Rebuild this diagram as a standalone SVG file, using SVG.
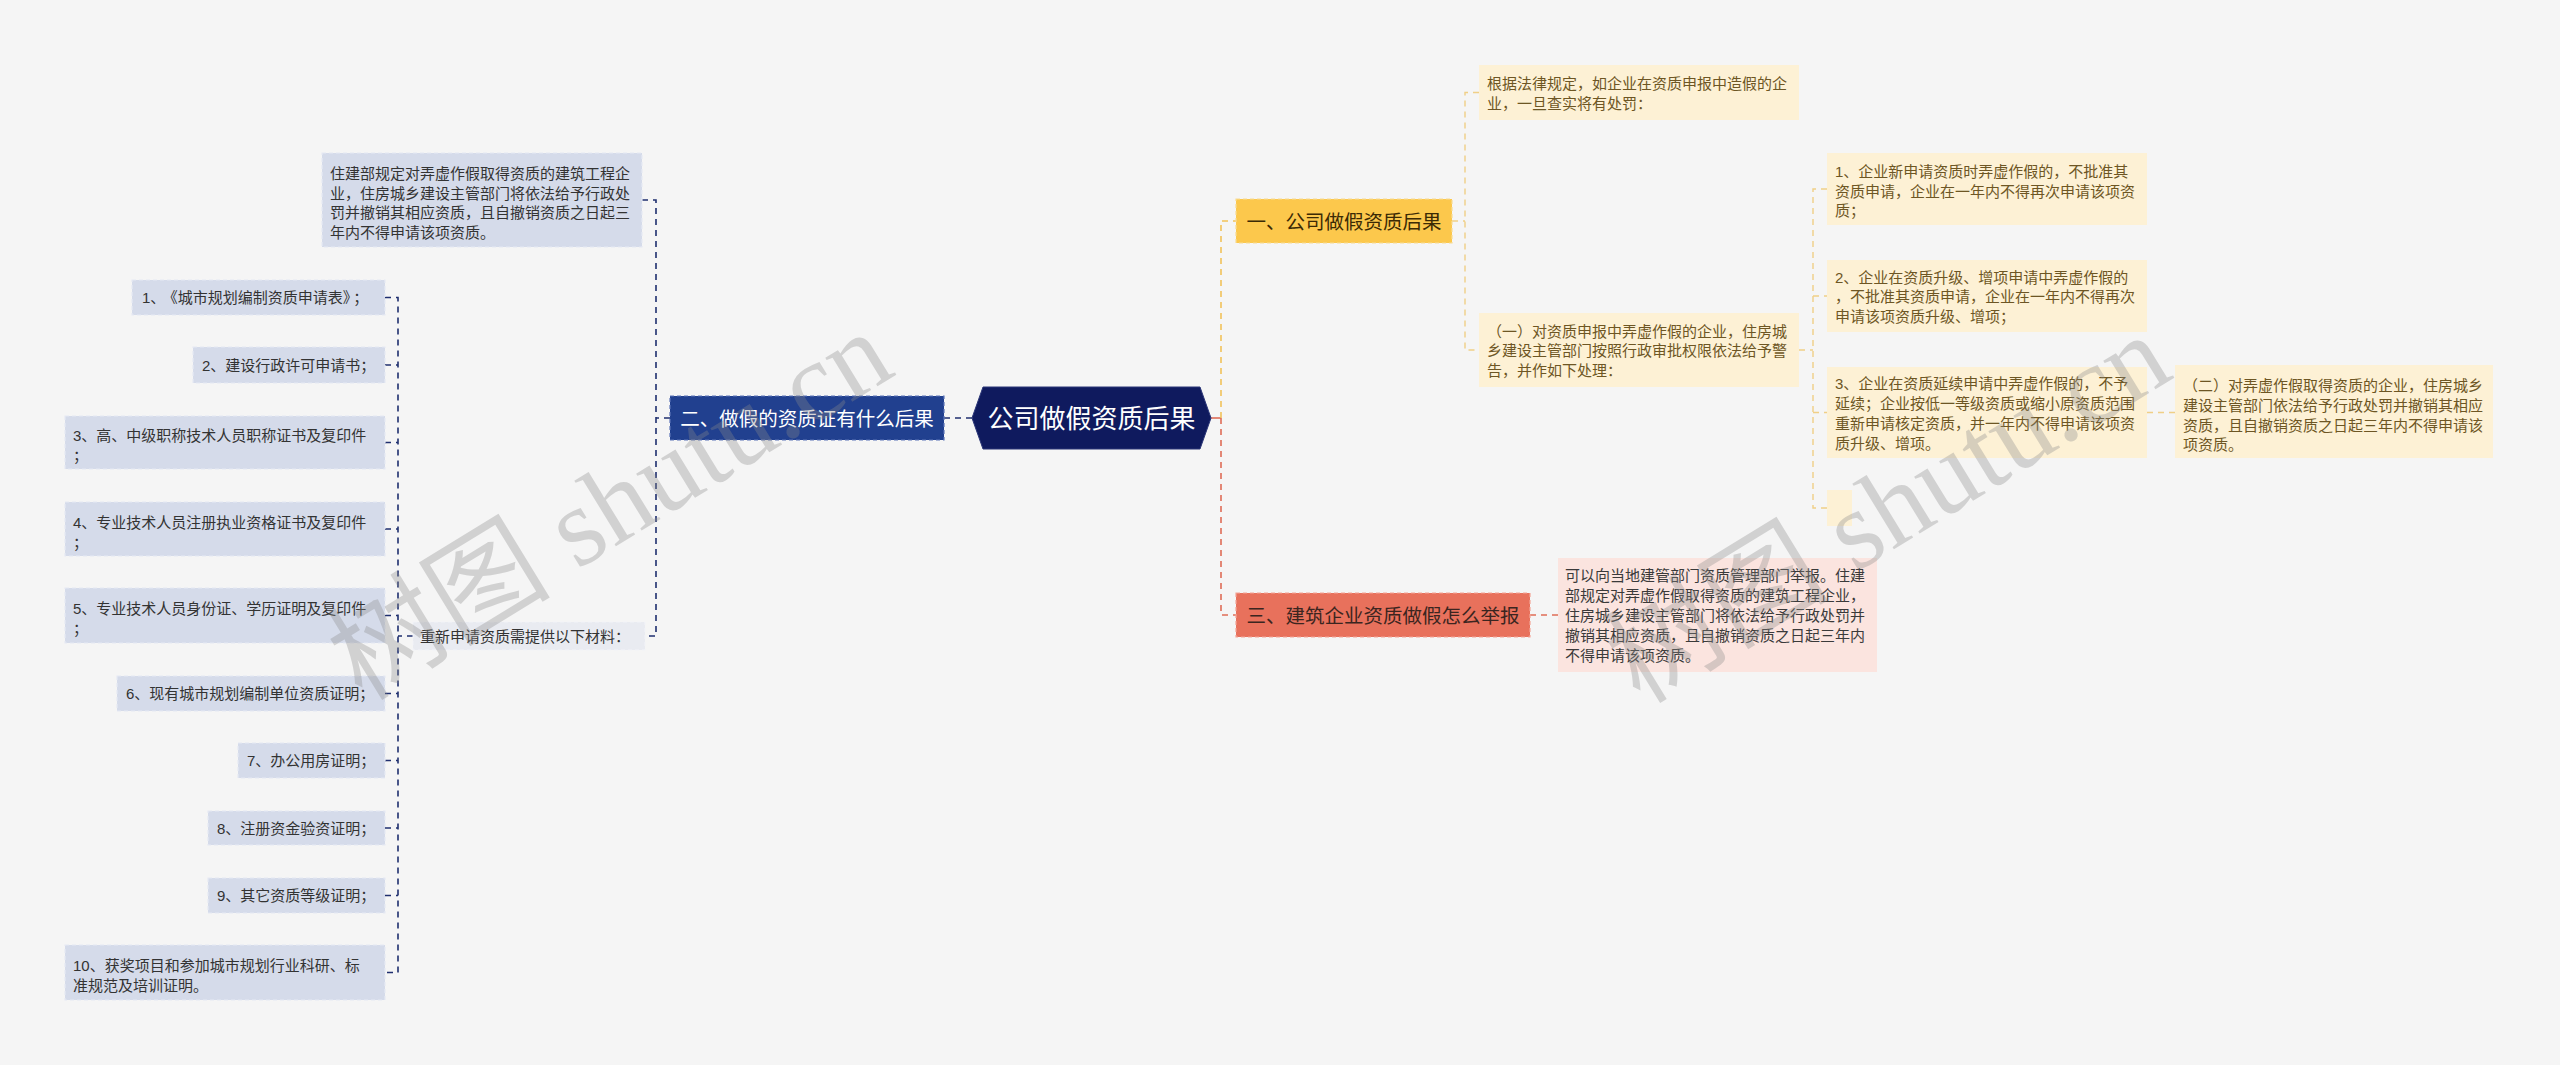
<svg xmlns="http://www.w3.org/2000/svg" width="2560" height="1065" viewBox="0 0 2560 1065">
<style>
text{font-family:"Liberation Sans","Noto Sans CJK SC",sans-serif;}
.s{font-size:15px;}
.b{font-size:19.5px;}
.item{fill:#d5dbea;stroke:#e6e9f3;stroke-width:1.2;stroke-dasharray:4 3;}
.it{fill:#333;}
.yel{fill:#fdf1d5;}
.yt{fill:#6d5624;}
.pink{fill:#fbe4df;}
.pt{fill:#3a3a3a;}
.cn{fill:none;stroke:#1f2f6f;stroke-width:1.6;stroke-dasharray:6 5;}
.cy{fill:none;stroke:#f2c25a;stroke-width:1.6;stroke-dasharray:6 5;}
.cy2{fill:none;stroke:#f0cf86;stroke-width:1.4;stroke-dasharray:6 5;}
.cr{fill:none;stroke:#df6d57;stroke-width:1.6;stroke-dasharray:6 5;}
.wm{font-family:"Liberation Serif","Noto Sans CJK SC",serif;font-size:112px;fill:#8a8a8a;opacity:0.33;}
</style>
<rect width="2560" height="1065" fill="#f5f5f5"/>

<g id="connectors">
<path class="cn" d="M944 418 H972"/>
<path class="cn" d="M670 418 H656 M642 200 H656 V636 H645"/>
<path class="cn" d="M413 636 H398 M385 297.5 H398 V972.5 H385 M385 365 H398 M385 442.5 H398 M385 529 H398 M385 615.5 H398 M385 693.5 H398 M385 760.5 H398 M385 828 H398 M385 895.5 H398"/>
<path d="M1211 418 H1221" stroke="#df6d57" stroke-width="1.6" fill="none"/>
<path class="cy" d="M1221 418 V221 H1236"/>
<path class="cr" d="M1221 418 V615 H1236"/>
<path class="cy2" d="M1452 221 H1465 M1479 92.5 H1465 V350 H1479"/>
<path class="cy2" d="M1799 350 H1813 M1827 189 H1813 V508 H1827 M1813 296 H1827 M1813 412.5 H1827"/>
<path class="cy2" d="M2147 412.5 H2175"/>
<path class="cr" d="M1530 615 H1558"/>
</g>

<g id="root">
<polygon points="972,418 983,387 1200,387 1211,418 1200,449 983,449" fill="#0f1a5e" stroke="#2a3577" stroke-width="1"/>
<text x="1091.5" y="428" text-anchor="middle" font-size="26" fill="#fff">公司做假资质后果</text>
</g>

<g id="branch2">
<rect x="670" y="396" width="274" height="44" fill="#21408f" stroke="#5d75b8" stroke-width="1.2" stroke-dasharray="4 3"/>
<text class="b" x="807" y="425.5" text-anchor="middle" fill="#fff">二、做假的资质证有什么后果</text>
</g>

<g id="n-top">
<rect class="item" x="322" y="153" width="320" height="94"/>
<text class="s it" x="330"><tspan x="330" y="179">住建部规定对弄虚作假取得资质的建筑工程企</tspan><tspan x="330" y="198.5">业，住房城乡建设主管部门将依法给予行政处</tspan><tspan x="330" y="218">罚并撤销其相应资质，且自撤销资质之日起三</tspan><tspan x="330" y="237.5">年内不得申请该项资质。</tspan></text>
</g>

<g id="n-materials">
<rect x="413" y="622" width="232" height="28" fill="#e9ebf1" stroke="#f2f3f8" stroke-width="1" stroke-dasharray="4 3"/>
<text class="s it" x="420" y="641.5">重新申请资质需提供以下材料：</text>
</g>

<g id="m1"><rect class="item" x="132" y="280" width="253" height="35"/><text class="s it" x="142" y="303">1、<tspan dx="5">《城市规划编制资质申请表》</tspan><tspan dx="3">；</tspan></text></g>
<g id="m2"><rect class="item" x="193" y="347" width="192" height="36"/><text class="s it" x="202" y="370.5">2、建设行政许可申请书；</text></g>
<g id="m3"><rect class="item" x="65" y="416" width="320" height="53"/><text class="s it"><tspan x="73" y="440.5">3、高、中级职称技术人员职称证书及复印件</tspan><tspan x="73" y="460.5">；</tspan></text></g>
<g id="m4"><rect class="item" x="65" y="502" width="320" height="54"/><text class="s it"><tspan x="73" y="527.5">4、专业技术人员注册执业资格证书及复印件</tspan><tspan x="73" y="547.5">；</tspan></text></g>
<g id="m5"><rect class="item" x="65" y="588" width="320" height="55"/><text class="s it"><tspan x="73" y="613.5">5、专业技术人员身份证、学历证明及复印件</tspan><tspan x="73" y="633.5">；</tspan></text></g>
<g id="m6"><rect class="item" x="117" y="676" width="268" height="35"/><text class="s it" x="126" y="699">6、现有城市规划编制单位资质证明；</text></g>
<g id="m7"><rect class="item" x="238" y="743" width="147" height="35"/><text class="s it" x="247" y="766">7、办公用房证明；</text></g>
<g id="m8"><rect class="item" x="208" y="811" width="177" height="34"/><text class="s it" x="217" y="833.5">8、注册资金验资证明；</text></g>
<g id="m9"><rect class="item" x="208" y="878" width="177" height="35"/><text class="s it" x="217" y="901">9、其它资质等级证明；</text></g>
<g id="m10"><rect class="item" x="65" y="945" width="320" height="55"/><text class="s it"><tspan x="73" y="970.5">10、获奖项目和参加城市规划行业科研、标</tspan><tspan x="73" y="990.5">准规范及培训证明。</tspan></text></g>

<g id="branch1">
<rect x="1236" y="199" width="216" height="44" fill="#fcc84c" stroke="#f8dc93" stroke-width="1.2" stroke-dasharray="4 3"/>
<text class="b" x="1344" y="228.5" text-anchor="middle" fill="#3b2a05">一、公司做假资质后果</text>
</g>

<g id="y-law">
<rect class="yel" x="1479" y="65" width="320" height="55"/>
<text class="s yt"><tspan x="1487" y="88.5">根据法律规定，如企业在资质申报中造假的企</tspan><tspan x="1487" y="108.5">业，一旦查实将有处罚：</tspan></text>
</g>

<g id="y-one">
<rect class="yel" x="1479" y="313" width="320" height="74"/>
<text class="s yt"><tspan x="1487" y="336.5">（一）对资质申报中弄虚作假的企业，住房城</tspan><tspan x="1487" y="356">乡建设主管部门按照行政审批权限依法给予警</tspan><tspan x="1487" y="375.5">告，并作如下处理：</tspan></text>
</g>

<g id="y-1">
<rect class="yel" x="1827" y="153" width="320" height="72"/>
<text class="s yt"><tspan x="1835" y="177">1、企业新申请资质时弄虚作假的，不批准其</tspan><tspan x="1835" y="196.5">资质申请，企业在一年内不得再次申请该项资</tspan><tspan x="1835" y="216">质；</tspan></text>
</g>

<g id="y-2">
<rect class="yel" x="1827" y="260" width="320" height="72"/>
<text class="s yt"><tspan x="1835" y="282.5">2、企业在资质升级、增项申请中弄虚作假的</tspan><tspan x="1835" y="302">，不批准其资质申请，企业在一年内不得再次</tspan><tspan x="1835" y="321.5">申请该项资质升级、增项；</tspan></text>
</g>

<g id="y-3">
<rect class="yel" x="1827" y="367" width="320" height="91"/>
<text class="s yt"><tspan x="1835" y="388.5">3、企业在资质延续申请中弄虚作假的，不予</tspan><tspan x="1835" y="408.5">延续；企业按低一等级资质或缩小原资质范围</tspan><tspan x="1835" y="428.5">重新申请核定资质，并一年内不得申请该项资</tspan><tspan x="1835" y="448.5">质升级、增项。</tspan></text>
</g>

<g id="y-4">
<rect class="yel" x="1827" y="490" width="25" height="36"/>
</g>

<g id="y-two">
<rect class="yel" x="2175" y="365" width="318" height="93"/>
<text class="s yt"><tspan x="2183" y="390.5">（二）对弄虚作假取得资质的企业，住房城乡</tspan><tspan x="2183" y="410.5">建设主管部门依法给予行政处罚并撤销其相应</tspan><tspan x="2183" y="430.5">资质，且自撤销资质之日起三年内不得申请该</tspan><tspan x="2183" y="450">项资质。</tspan></text>
</g>

<g id="branch3">
<rect x="1236" y="593" width="294" height="44" fill="#e8715c" stroke="#f3a597" stroke-width="1.2" stroke-dasharray="4 3"/>
<text class="b" x="1383" y="622.5" text-anchor="middle" fill="#3b2520">三、建筑企业资质做假怎么举报</text>
</g>

<g id="p-report">
<rect class="pink" x="1558" y="558" width="319" height="114"/>
<text class="s pt"><tspan x="1565" y="581">可以向当地建管部门资质管理部门举报。住建</tspan><tspan x="1565" y="601">部规定对弄虚作假取得资质的建筑工程企业，</tspan><tspan x="1565" y="621">住房城乡建设主管部门将依法给予行政处罚并</tspan><tspan x="1565" y="641">撤销其相应资质，且自撤销资质之日起三年内</tspan><tspan x="1565" y="661">不得申请该项资质。</tspan></text>
</g>

<g id="watermark">
<text class="wm" transform="translate(362 702) rotate(-31.5)">树图 shutu.cn</text>
<text class="wm" transform="translate(1640 705) rotate(-31.5)">树图 shutu.cn</text>
</g>
</svg>
